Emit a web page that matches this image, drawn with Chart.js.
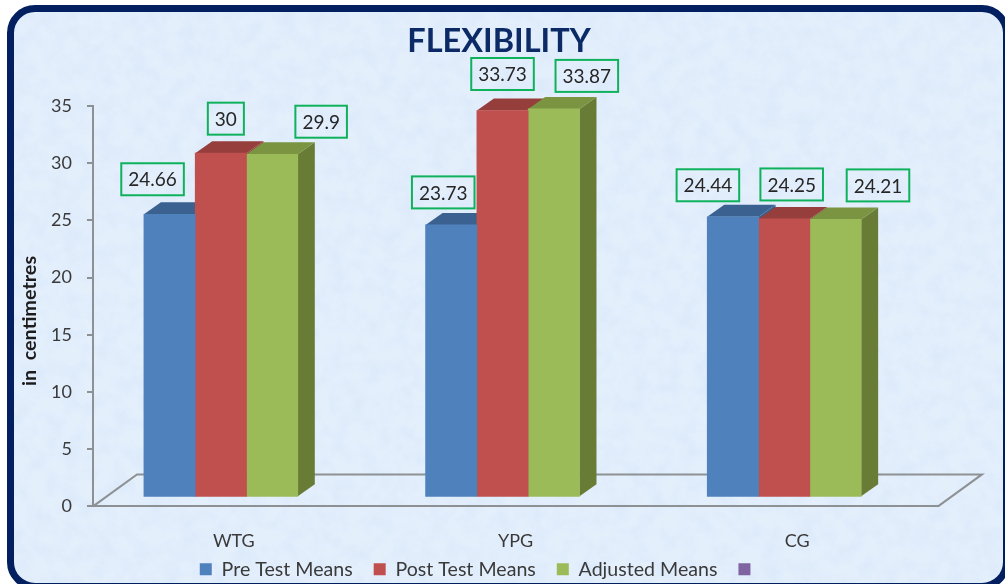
<!DOCTYPE html>
<html>
<head>
<meta charset="utf-8">
<title>Flexibility</title>
<script src="https://cdn.jsdelivr.net/npm/chart.js@4"></script>
<style>
  html, body { margin: 0; padding: 0; background: #fff; overflow: hidden; }
  #stage { position: relative; width: 1005px; height: 584px; overflow: hidden; }
  #panel {
    position: absolute; left: 7px; top: 5px; width: 1003px; height: 585px;
    box-sizing: border-box; border: 7px solid #02205f; border-radius: 28px;
    background-color: #dceafa;
    background-image: url("data:image/svg+xml;utf8,<svg xmlns='http://www.w3.org/2000/svg' width='1005' height='584'><filter id='n' x='0' y='0' width='100%' height='100%'><feTurbulence type='fractalNoise' baseFrequency='0.06' numOctaves='5' seed='7'/><feColorMatrix values='0 0 0 0 0.68  0 0 0 0 0.8  0 0 0 0 0.95  2.4 0 0 0 -0.9'/></filter><rect width='1005' height='584' fill='%23e4effc'/><rect width='1005' height='584' filter='url(%23n)' opacity='0.6'/></svg>");
  }
  canvas { position: absolute; left: 0; top: 0; }
</style>
</head>
<body>
<div id="stage">
  <div id="panel"></div>
  <canvas id="chart" width="1005" height="584"></canvas>
</div>
<script>
const CATEGORIES = ['WTG', 'YPG', 'CG'];
const PRE_TEST = [24.66, 23.73, 24.44];
const POST_TEST = [30, 33.73, 24.25];
const ADJUSTED = [29.9, 33.87, 24.21];
const EMPTY_SERIES = [null, null, null];

const COLOR_BLUE = '#4f81bd';
const COLOR_RED = '#c0504d';
const COLOR_GREEN = '#9bbb59';
const COLOR_PURPLE = '#8064a2';
const TEXT_COLOR = '#3a3a3a';
const AXIS_COLOR = '#8e9193';
const FONT = 'Lato, "Open Sans", sans-serif';

// darker faces of the fake 3D bars
const TOP_COLORS = ['#3a6190', '#963e3c', '#7a9441'];
const SIDE_COLORS = ['#3a6190', '#963e3c', '#687c36'];
const BAR_DEPTH = { x: 17, y: -12 };
const FLOOR_DEPTH = { x: 44, y: -32 };

// where each hand-placed value box sits, relative to the top centre of its bar
const BOX_OFFSETS = [
  [[-17, -35], [-8, -32.5], [-25, -31.5]],
  [[5, -34.5], [0, -36.5], [7.5, -34.5]],
  [[49, -32.6], [33, -33], [42.5, -34]]
];

function bar3d(label, data, color) {
  return { label, data: data.map((v, i) => ({ x: i, y: v })), backgroundColor: color, xAxisID: 'xBars', yAxisID: 'yBars', barThickness: 51.3, borderWidth: 0 };
}

const fake3d = {
  id: 'fake3d',
  afterLayout(chart) {
    // legend sits closer to the axis than the layout allows, the x labels need their clip room
    chart.legend.top -= 20;
    chart.legend.bottom -= 20;
  },
  beforeDatasetsDraw(chart) {
    const { ctx, chartArea: a } = chart;
    // floor of the 3D box
    ctx.save();
    ctx.strokeStyle = AXIS_COLOR;
    ctx.lineWidth = 2;
    ctx.beginPath();
    ctx.moveTo(a.left, a.bottom);
    ctx.lineTo(a.left + FLOOR_DEPTH.x, a.bottom + FLOOR_DEPTH.y);
    ctx.lineTo(a.right + FLOOR_DEPTH.x, a.bottom + FLOOR_DEPTH.y);
    ctx.lineTo(a.right, a.bottom);
    ctx.stroke();

    // tops and sides go under the front faces the library draws afterwards
    TOP_COLORS.forEach((top, s) => {
      chart.getDatasetMeta(s).data.forEach(bar => {
        const l = bar.x - bar.width / 2;
        const r = bar.x + bar.width / 2;
        ctx.fillStyle = SIDE_COLORS[s];
        ctx.beginPath();
        ctx.moveTo(r, bar.y);
        ctx.lineTo(r + BAR_DEPTH.x, bar.y + BAR_DEPTH.y);
        ctx.lineTo(r + BAR_DEPTH.x, bar.base + BAR_DEPTH.y);
        ctx.lineTo(r, bar.base);
        ctx.fill();
        ctx.fillStyle = top;
        ctx.beginPath();
        ctx.moveTo(l, bar.y);
        ctx.lineTo(l + BAR_DEPTH.x, bar.y + BAR_DEPTH.y);
        ctx.lineTo(r + BAR_DEPTH.x, bar.y + BAR_DEPTH.y);
        ctx.lineTo(r, bar.y);
        ctx.fill();
      });
    });
    ctx.restore();
  },
  afterDatasetsDraw(chart) {
    const { ctx } = chart;
    ctx.save();
    ctx.textAlign = 'center';
    ctx.textBaseline = 'middle';

    BOX_OFFSETS.forEach((rows, s) => {
      const values = chart.data.datasets[s].data;
      chart.getDatasetMeta(s).data.forEach((bar, i) => {
        const cx = bar.x + rows[i][0];
        const cy = bar.y + rows[i][1];
        const text = String(values[i].y);
        ctx.font = '19px ' + FONT;
        const w = ctx.measureText(text).width + 14;
        ctx.strokeStyle = '#0fb25c';
        ctx.lineWidth = 2;
        ctx.strokeRect(cx - w / 2, cy - 16, w, 32);
        ctx.fillStyle = '#262626';
        ctx.fillText(text, cx, cy + 1);
      });
    });

    ctx.fillStyle = '#0b2a66';
    ctx.font = 'bold 32.5px ' + FONT;
    ctx.fillText('FLEXIBILITY', 499, 42);

    ctx.translate(30, 321);
    ctx.rotate(-Math.PI / 2);
    ctx.fillStyle = '#1c1c1c';
    ctx.font = 'bold 19.8px ' + FONT;
    ctx.fillText('in  centimetres', 0, 0);
    ctx.restore();
  }
};

new Chart(document.getElementById('chart'), {
  type: 'bar',
  data: {
    labels: CATEGORIES,
    datasets: [
      bar3d('Pre Test Means', PRE_TEST, COLOR_BLUE),
      bar3d('Post Test Means', POST_TEST, COLOR_RED),
      bar3d('Adjusted Means', ADJUSTED, COLOR_GREEN),
      bar3d('', EMPTY_SERIES, COLOR_PURPLE)
    ]
  },
  plugins: [fake3d],
  options: {
    responsive: false,
    animation: false,
    layout: { padding: { left: 22, right: 67, top: 106, bottom: -25 } },
    plugins: {
      tooltip: { enabled: false },
      title: { display: false },
      legend: {
        position: 'bottom',
        labels: {
          boxWidth: 12, boxHeight: 12, padding: 21,
          color: TEXT_COLOR,
          font: { family: FONT, size: 19.6 }
        }
      }
    },
    scales: {
      x: {
        type: 'category',
        offset: true,
        afterFit(scale) { scale.height = 52; },
        grid: { display: false },
        border: { color: AXIS_COLOR, width: 2 },
        ticks: { color: TEXT_COLOR, padding: 16, font: { family: FONT, size: 18 } }
      },
      xBars: { type: 'linear', display: false, offset: false, min: -0.545, max: 2.455 },
      y: {
        min: 0,
        max: 35,
        afterFit(scale) { scale.width = 71; },
        grid: { drawOnChartArea: false, tickLength: 6, color: AXIS_COLOR, lineWidth: 2 },
        border: { color: AXIS_COLOR, width: 2 },
        ticks: { stepSize: 5, color: TEXT_COLOR, padding: 15, font: { family: FONT, size: 18 } }
      },
      yBars: { display: false, min: -0.877, max: 34.123 }
    }
  }
});
</script>
</body>
</html>
